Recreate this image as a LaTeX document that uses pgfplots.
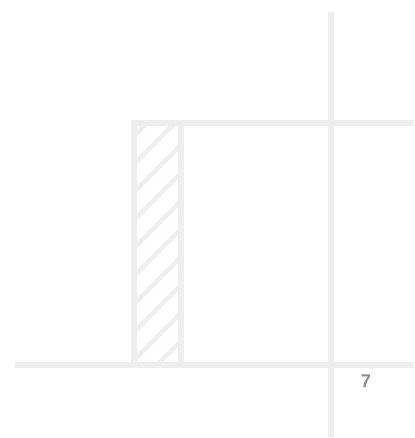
\documentclass[border=0pt]{standalone}
\usepackage{pgfplots}
\pgfplotsset{compat=1.18}
\usetikzlibrary{patterns.meta}
\usepackage{fontspec}
\setmainfont{Liberation Sans}
\definecolor{gridgray}{RGB}{238,238,238}
\definecolor{labelgray}{RGB}{140,140,140}
\begin{document}
\begin{tikzpicture}[x=1bp,y=1bp]
\begin{axis}[
  scale only axis,
  width=414bp, height=438bp,
  xmin=0, xmax=414, ymin=0, ymax=438,
  hide axis,
  clip=true,
]
% hatched bar
\addplot[draw=none, pattern={Lines[angle=45, distance=19.8bp, line width=4.5bp]}, pattern color=gridgray]
  coordinates {(134,72.5) (180.5,72.5) (180.5,314.5) (134,314.5)} \closedcycle;
% bar outline and top line
\addplot[gridgray, line width=6bp, line cap=butt] coordinates {(134,72.5) (134,314.5)};
\addplot[gridgray, line width=6bp, line cap=butt] coordinates {(180.5,72.5) (180.5,314.5)};
\addplot[gridgray, line width=6bp, line cap=butt] coordinates {(131,314.5) (414,314.5)};
% grid lines
\addplot[gridgray, line width=6bp, line cap=butt] coordinates {(15,72.5) (414,72.5)};
\addplot[gridgray, line width=6bp, line cap=butt] coordinates {(331,1) (331,426)};
\node[text=labelgray, font=\bfseries\fontsize{18.5}{18.5}\selectfont, anchor=base] at (axis cs:366,50) {7};
\end{axis}
\draw[draw=none] (0,0) rectangle (414,438);
\end{tikzpicture}
\end{document}
